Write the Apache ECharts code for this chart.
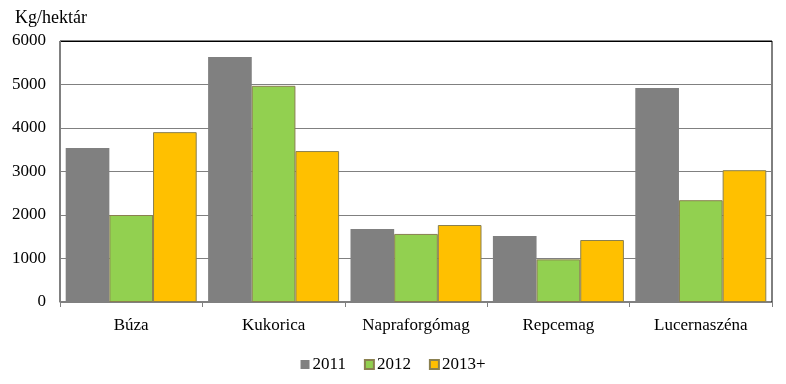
<!DOCTYPE html>
<html><head><meta charset="utf-8">
<script src="https://cdn.jsdelivr.net/npm/echarts@6/dist/echarts.min.js"></script>
<style>html,body{margin:0;padding:0;background:#fff}#c{width:786px;height:384px}</style>
</head><body><div id="c"></div>
<script>
const categories = ['Búza', 'Kukorica', 'Napraforgómag', 'Repcemag', 'Lucernaszéna'];
const seriesNames = ['2011', '2012', '2013+'];
const values2011 = [3540, 5630, 1680, 1515, 4920];
const values2012 = [2000, 4970, 1565, 980, 2340];
const values2013 = [3905, 3470, 1770, 1425, 3030];
const yTicks = [0, 1000, 2000, 3000, 4000, 5000, 6000];
const colors = ['#808080', '#92D050', '#FFC000'];
const font = '"Liberation Serif", "DejaVu Serif", serif';

const chart = echarts.init(document.getElementById('c'));
const mk = (name, data, i) => ({
  name, type: 'bar', data, barGap: '0%', barCategoryGap: '8%',
  itemStyle: { color: colors[i], borderColor: i === 0 ? '#808080' : '#8a8050', borderWidth: i === 0 ? 0 : 1 }
});
chart.setOption({
  animation: false,
  textStyle: { fontFamily: font },
  grid: { left: 60, right: 14, top: 41, bottom: 82, show: true, borderColor: '#000', borderWidth: 1 },
  title: { text: 'Kg/hektár', left: 10, top: 4, textStyle: { fontFamily: font, fontSize: 18, fontWeight: 'normal', color: '#000' } },
  legend: {
    bottom: 6, left: 'center', itemWidth: 9, itemHeight: 9, itemGap: 18, icon: 'rect',
    textStyle: { fontFamily: font, fontSize: 17, color: '#000', padding: [0, 0, 0, -2] },
    data: seriesNames
  },
  xAxis: {
    type: 'category', data: categories,
    axisLine: { lineStyle: { color: '#808080', width: 1 } },
    axisTick: { show: true, length: 5, lineStyle: { color: '#808080' } },
    axisLabel: { fontFamily: font, fontSize: 17, color: '#000', margin: 15 }
  },
  yAxis: {
    type: 'value', min: 0, max: 6000, interval: 1000,
    axisLine: { show: true, lineStyle: { color: '#808080' } },
    axisTick: { show: false },
    axisLabel: { fontFamily: font, fontSize: 17, color: '#000', margin: 14,
      formatter: v => yTicks.includes(v) ? String(v) : '' },
    splitLine: { lineStyle: { color: ['#808080','#808080','#808080','#808080','#808080','#808080','#000'], width: 1 } }
  },
  series: [mk(seriesNames[0], values2011, 0), mk(seriesNames[1], values2012, 1), mk(seriesNames[2], values2013, 2)]
});
</script></body></html>
